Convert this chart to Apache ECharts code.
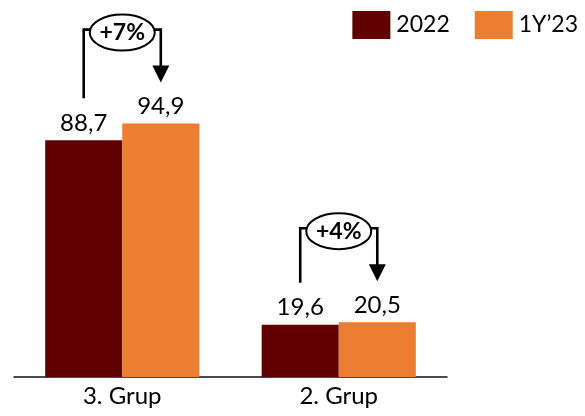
<!DOCTYPE html>
<html>
<head>
<meta charset="utf-8">
<script src="https://cdn.jsdelivr.net/npm/echarts@6/dist/echarts.min.js"></script>
<style>
html,body{margin:0;padding:0;background:#fff;}
#chart{width:585px;height:416px;}
</style>
</head>
<body>
<div id="chart"></div>
<script>
var categories = ['3. Grup', '2. Grup'];
var seriesNames = ['2022', '1Y\u201923'];
var values2022 = [88.7, 19.6];
var values1Y23 = [94.9, 20.5];
var changeLabels = ['+7%', '+4%'];

var FONT = 'Lato';
var DARK = '#600000';
var ORANGE = '#ED7D31';
var GAP = 0.288;

var chart = echarts.init(document.getElementById('chart'), null, {renderer: 'canvas'});

function fmt(p) { return String(p.value.toFixed(1)).replace('.', ','); }

var labelStyle = {
  show: true, position: 'top', distance: 5, formatter: fmt,
  fontFamily: FONT, fontSize: 24, color: '#000'
};

chart.setOption({
  animation: false,
  textStyle: {fontFamily: FONT},
  legend: {
    right: 2, top: 6, itemWidth: 38, itemHeight: 28, itemGap: 25,
    icon: 'rect',
    textStyle: {fontFamily: FONT, fontSize: 23, color: '#000', padding: [0, 0, 0, 1]},
    data: seriesNames
  },
  grid: {left: 14, right: 138, bottom: 39, top: 110},
  xAxis: {
    type: 'category', data: categories,
    axisLine: {lineStyle: {color: '#111', width: 1.5}},
    axisTick: {show: false},
    axisLabel: {fontFamily: FONT, fontSize: 24, color: '#000', margin: 7}
  },
  yAxis: {
    type: 'value', min: 0, max: 100, show: false,
    splitLine: {show: false}
  },
  series: [
    {name: seriesNames[0], type: 'bar', data: values2022, barGap: '0%', barCategoryGap: (GAP * 100) + '%',
     itemStyle: {color: DARK}, label: labelStyle},
    {name: seriesNames[1], type: 'bar', data: values1Y23, barGap: '0%', barCategoryGap: (GAP * 100) + '%',
     itemStyle: {color: ORANGE}, label: labelStyle}
  ]
});

// annotations (brackets with change labels) positioned from the axes
var c0 = chart.convertToPixel({xAxisIndex: 0}, 0);
var c1 = chart.convertToPixel({xAxisIndex: 0}, 1);
var catW = Math.abs(c1 - c0);
var bw = catW * (1 - GAP) / 2;
var graphics = [];
var LW = 2.6;
var RX = 32.5, RY = 18;
for (var i = 0; i < categories.length; i++) {
  var cx = chart.convertToPixel({xAxisIndex: 0}, i);
  var xa = cx - bw / 2, xb = cx + bw / 2;
  var ya = chart.convertToPixel({yAxisIndex: 0}, values2022[i]);
  var yb = chart.convertToPixel({yAxisIndex: 0}, values1Y23[i]);
  var yTop = Math.min(ya, yb) - 94;
  var eyc = yTop + 3;
  var tipY = yb - 41;
  graphics.push({type: 'polyline', shape: {points: [[xa, ya - 42], [xa, yTop], [cx - RX + 1, yTop]]},
    style: {stroke: '#000', lineWidth: LW, fill: null}});
  graphics.push({type: 'polyline', shape: {points: [[cx + RX - 1, yTop], [xb, yTop], [xb, tipY - 15]]},
    style: {stroke: '#000', lineWidth: LW, fill: null}});
  graphics.push({type: 'polygon', shape: {points: [[xb - 8.5, tipY - 17], [xb + 8.5, tipY - 17], [xb, tipY]]},
    style: {fill: '#000'}});
  graphics.push({type: 'ellipse', shape: {cx: cx, cy: eyc, rx: RX, ry: RY},
    style: {fill: '#fff', stroke: '#000', lineWidth: 2}});
  graphics.push({type: 'text', x: cx, y: eyc,
    style: {text: changeLabels[i], fontFamily: FONT, fontSize: 23, fontWeight: 'bold', fill: '#000',
      align: 'center', verticalAlign: 'middle'}});
}
chart.setOption({graphic: graphics});
</script>
</body>
</html>
